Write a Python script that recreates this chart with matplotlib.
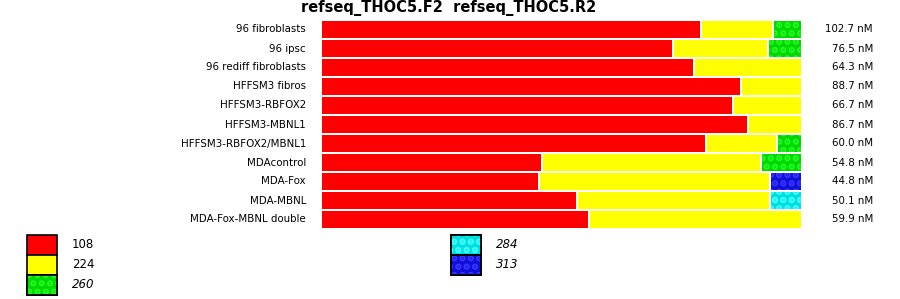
import numpy as np
import matplotlib.pyplot as plt
from matplotlib.patches import Rectangle

plt.rcParams['font.family'] = ['DejaVu Sans']
plt.rcParams['hatch.linewidth'] = 3.2

samples = ['96 fibroblasts', '96 ipsc', '96 rediff fibroblasts', 'HFFSM3 fibros',
           'HFFSM3-RBFOX2', 'HFFSM3-MBNL1', 'HFFSM3-RBFOX2/MBNL1', 'MDAcontrol',
           'MDA-Fox', 'MDA-MBNL', 'MDA-Fox-MBNL double']
conc = ['102.7 nM', '76.5 nM', '64.3 nM', '88.7 nM', '66.7 nM', '86.7 nM',
        '60.0 nM', '54.8 nM', '44.8 nM', '50.1 nM', '59.9 nM']

# fraction of each product size per sample
p108 = [0.790, 0.732, 0.775, 0.873, 0.857, 0.888, 0.800, 0.459, 0.453, 0.532, 0.557]
p224 = [0.150, 0.198, 0.225, 0.127, 0.143, 0.112, 0.148, 0.455, 0.480, 0.401, 0.443]
p260 = [0.060, 0.071, 0, 0, 0, 0, 0.052, 0.086, 0, 0, 0]
p284 = [0, 0, 0, 0, 0, 0, 0, 0, 0, 0.067, 0]
p313 = [0, 0, 0, 0, 0, 0, 0, 0, 0.067, 0, 0]

sizes = ['108', '224', '260', '284', '313']
fills = ['#ff0000', '#ffff00', '#00d800', '#00e0e0', '#1010d8']
hatch_col = [None, None, '#22f822', '#44ffff', '#3535ff']

W, H = 900, 299
fig = plt.figure(figsize=(W / 100, H / 100), dpi=100)

ax = fig.add_axes([321 / W, 1 - 229 / H, 481 / W, 209 / H])
ax.set_xlim(0, 1)
ax.set_ylim(10.5, -0.5)
ax.axis('off')

gap = 2 / 481
y = np.arange(len(samples))
left = np.zeros(len(samples))
for vals, fc, hc in zip([p108, p224, p260, p284, p313], fills, hatch_col):
    vals = np.array(vals)
    m = vals > 0
    ax.barh(y[m], vals[m] - gap, left=left[m] + gap / 2, height=17 / 19,
            color=fc, linewidth=0)
    if hc:
        ax.barh(y[m], vals[m] - gap, left=left[m] + gap / 2, height=17 / 19,
                facecolor='none', edgecolor=hc, hatch='..', linewidth=0)
    left += vals

for i, (s, c) in enumerate(zip(samples, conc)):
    fig.text(306 / W, 1 - (29.5 + 19 * i) / H, s, ha='right', va='center', fontsize=7.4)
    fig.text(873 / W, 1 - (29.5 + 19 * i) / H, c, ha='right', va='center', fontsize=7.4)

fig.text(449 / W, 1 - 8.5 / H, 'refseq_THOC5.F2  refseq_THOC5.R2', ha='center', va='center',
         fontsize=10.5, fontweight='bold')

# legend
lx = [27, 27, 27, 451, 451]
ly = [235, 255, 275, 235, 255]
for k in range(5):
    x0, y0 = lx[k] / W, 1 - (ly[k] + 20) / H
    fig.add_artist(Rectangle((x0, y0), 30 / W, 20 / H, transform=fig.transFigure,
                             facecolor=fills[k], edgecolor='black', linewidth=1.2))
    if hatch_col[k]:
        fig.add_artist(Rectangle((x0, y0), 30 / W, 20 / H, transform=fig.transFigure,
                                 facecolor='none', edgecolor=hatch_col[k], hatch='..',
                                 linewidth=0))
        fig.add_artist(Rectangle((x0, y0), 30 / W, 20 / H, transform=fig.transFigure,
                                 facecolor='none', edgecolor='black', linewidth=1.2))
    fig.text((lx[k] + 45) / W, 1 - (ly[k] + 10) / H, sizes[k], ha='left', va='center',
             fontsize=8.5, style='italic' if hatch_col[k] else 'normal')

fig.savefig('out.png', dpi=100)
